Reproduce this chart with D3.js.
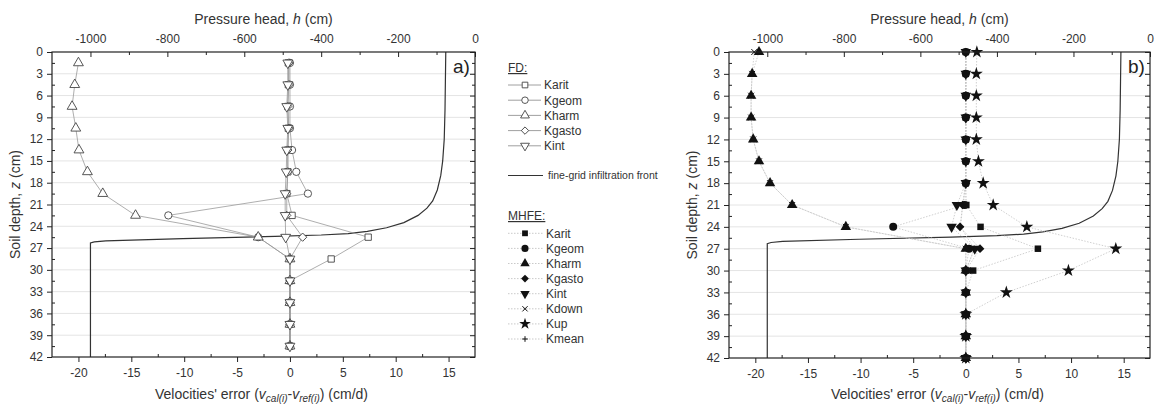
<!DOCTYPE html>
<html lang="en">
<head>
<meta charset="UTF-8" />
<script src="https://cdn.jsdelivr.net/npm/d3@7/dist/d3.min.js"></script>
<style>
  body { margin: 0; background: #fff; }
  svg { display: block; font-family: "Liberation Sans", Arial, sans-serif; }
</style>
</head>
<body>
<svg width="1155" height="410" class="svg"></svg>
<script>
  // ---- data ----
  const depthTicks = [0, 3, 6, 9, 12, 15, 18, 21, 24, 27, 30, 33, 36, 39, 42];
  const depthMinor = [1.5, 4.5, 7.5, 10.5, 13.5, 16.5, 19.5, 22.5, 25.5, 28.5, 31.5, 34.5, 37.5, 40.5];
  const velTicks = [-20, -15, -10, -5, 0, 5, 10, 15];
  const velMinor = [-17.5, -12.5, -7.5, -2.5, 2.5, 7.5, 12.5];
  const headTicks = [-1000, -800, -600, -400, -200, 0];
  const headMinor = [-900, -700, -500, -300, -100];

  // FD: values at cell centres
  const depthFD = [1.5, 4.5, 7.5, 10.5, 13.5, 16.5, 19.5, 22.5, 25.5, 28.5, 31.5, 34.5, 37.5, 40.5];
  const fdKarit  = [-0.15, -0.15, -0.2, -0.15, -0.2, -0.2, -0.3, 0.2, 7.4, 3.9, 0, 0, 0, 0];
  const fdKgeom  = [0, 0, 0, 0, 0.2, 0.6, 1.7, -11.5, -3.0, 0, 0, 0, 0, 0];
  const fdKharm  = [-20.0, -20.35, -20.6, -20.25, -19.95, -19.15, -17.7, -14.6, -3.0, 0, 0, 0, 0, 0];
  const fdKgasto = [-0.1, -0.1, -0.2, -0.1, -0.2, -0.2, -0.3, -0.3, 1.2, 0, 0, 0, 0, 0];
  const fdKint   = [-0.2, -0.2, -0.3, -0.2, -0.3, -0.35, -0.45, -0.45, -0.4, 0, 0, 0, 0, 0];

  // MHFE: values at interfaces
  const depthMHFE = [0, 3, 6, 9, 12, 15, 18, 21, 24, 27, 30, 33, 36, 39, 42];
  const mhKarit  = [0, 0, 0, 0, 0, 0, 0, 0.05, 1.4, 6.85, 0.7, 0, 0, 0, 0];
  const mhKgeom  = [0, 0, 0, 0, 0, 0, 0, -0.1, -6.9, 0.3, 0, 0, 0, 0, 0];
  const mhKharm  = [-19.65, -20.3, -20.4, -20.4, -20.2, -19.65, -18.6, -16.5, -11.4, 0, 0, 0, 0, 0, 0];
  const mhKgasto = [0, 0, 0, 0, 0, 0, 0, -0.3, -0.55, 1.35, 0, 0, 0, 0, 0];
  const mhKint   = [0, 0, 0, 0, 0, 0, 0, -0.85, -1.35, 0.85, 0, 0, 0, 0, 0];
  const mhKdown  = [-20.1, -20.3, -20.4, -20.4, -20.2, -19.65, -18.6, -16.5, -11.4, 0, 0, 0, 0, 0, 0];
  const mhKup    = [1.05, 1.0, 1.0, 1.0, 1.0, 1.2, 1.65, 2.6, 5.8, 14.25, 9.75, 3.85, 0, 0, 0];
  const mhKmean  = [0, 0, 0, 0, 0, 0, 0, -0.3, -0.5, 0.8, 0, 0, 0, 0, 0];

  // fine-grid infiltration front (pressure head vs depth)
  const frontDepth = [0, 4, 8, 12, 15, 17, 19, 20.5, 21.5, 22.5, 23.5, 24.2, 24.7, 25.0, 25.2, 25.4, 25.7, 26.0, 26.15, 26.3, 42];
  const frontHead  = [-76, -77, -78, -80, -84, -89, -98, -110, -125, -148, -185, -230, -280, -330, -400, -520, -760, -960, -990, -1000, -1000];

  const svg = d3.select('.svg');
  const plain = d => String(d);

  // custom stroke symbols
  const symTimes = { draw(ctx, size) { const r = Math.sqrt(size) / 2.4; ctx.moveTo(-r, -r); ctx.lineTo(r, r); ctx.moveTo(r, -r); ctx.lineTo(-r, r); } };
  const symPlus = { draw(ctx, size) { const r = Math.sqrt(size) / 2; ctx.moveTo(-r, 0); ctx.lineTo(r, 0); ctx.moveTo(0, -r); ctx.lineTo(0, r); } };

  const fdSeries = [
    { name: 'Karit',  vals: fdKarit,  type: d3.symbolSquare,   rot: 0,   size: 40 },
    { name: 'Kgeom',  vals: fdKgeom,  type: d3.symbolCircle,   rot: 0,   size: 42 },
    { name: 'Kharm',  vals: fdKharm,  type: d3.symbolTriangle, rot: 0,   size: 42 },
    { name: 'Kgasto', vals: fdKgasto, type: d3.symbolSquare,   rot: 45,  size: 34 },
    { name: 'Kint',   vals: fdKint,   type: d3.symbolTriangle, rot: 180, size: 42 },
  ];
  const mhSeries = [
    { name: 'Karit',  vals: mhKarit,  type: d3.symbolSquare,   rot: 0,   size: 42 },
    { name: 'Kgeom',  vals: mhKgeom,  type: d3.symbolCircle,   rot: 0,   size: 50 },
    { name: 'Kharm',  vals: mhKharm,  type: d3.symbolTriangle, rot: 0,   size: 48 },
    { name: 'Kgasto', vals: mhKgasto, type: d3.symbolSquare,   rot: 45,  size: 38 },
    { name: 'Kint',   vals: mhKint,   type: d3.symbolTriangle, rot: 180, size: 48 },
    { name: 'Kdown',  vals: mhKdown,  type: symTimes,          rot: 0,   size: 50, stroke: true },
    { name: 'Kup',    vals: mhKup,    type: d3.symbolStar,     rot: 0,   size: 52 },
    { name: 'Kmean',  vals: mhKmean,  type: symPlus,           rot: 0,   size: 40, stroke: true },
  ];

  function styleAxis(sel) {
    sel.attr('font-size', 12).attr('font-family', null);
    sel.select('.domain').remove();
    sel.selectAll('.tick line').attr('stroke', '#222');
    sel.selectAll('.tick text').attr('fill', '#333');
  }

  function drawPanel(cfg) {
    const g = svg.append('g');
    const x = d3.scaleLinear().domain([-22.5, 17.5]).range([cfg.left, cfg.right]);
    const hx = d3.scaleLinear().domain([-1100, 0]).range([cfg.left, cfg.right]);
    const y = d3.scaleLinear().domain([0, 42]).range([cfg.top, cfg.bottom]);

    // grid
    g.append('g').selectAll('line').data(depthTicks.slice(1, -1)).join('line')
      .attr('x1', cfg.left).attr('x2', cfg.right)
      .attr('y1', d => y(d)).attr('y2', d => y(d))
      .attr('stroke', '#e4e4e4').attr('stroke-width', 1);

    // axes
    g.append('g').attr('transform', `translate(${cfg.left},0)`)
      .call(d3.axisLeft(y).tickValues(depthTicks).tickFormat(plain).tickSize(5).tickPadding(4)).call(styleAxis);
    g.append('g').attr('transform', `translate(${cfg.left},0)`)
      .call(d3.axisLeft(y).tickValues(depthMinor).tickSize(-3).tickFormat('')).call(styleAxis);
    g.append('g').attr('transform', `translate(${cfg.right},0)`)
      .call(d3.axisRight(y).tickValues(depthTicks).tickSize(-5).tickFormat('')).call(styleAxis);
    g.append('g').attr('transform', `translate(${cfg.right},0)`)
      .call(d3.axisRight(y).tickValues(depthMinor).tickSize(-3).tickFormat('')).call(styleAxis);
    g.append('g').attr('transform', `translate(0,${cfg.bottom})`)
      .call(d3.axisBottom(x).tickValues(velTicks).tickFormat(plain).tickSize(5).tickPadding(6)).call(styleAxis);
    g.append('g').attr('transform', `translate(0,${cfg.bottom})`)
      .call(d3.axisBottom(x).tickValues(velMinor).tickSize(-3).tickFormat('')).call(styleAxis);
    g.append('g').attr('transform', `translate(0,${cfg.top})`)
      .call(d3.axisTop(hx).tickValues(headTicks).tickFormat(plain).tickSize(-5).tickPadding(9)).call(styleAxis);
    g.append('g').attr('transform', `translate(0,${cfg.top})`)
      .call(d3.axisTop(hx).tickValues(headMinor).tickSize(-3).tickFormat('')).call(styleAxis);

    // infiltration front
    const front = frontDepth.map((z, i) => ({ z, h: frontHead[i] }));
    g.append('path').datum(front)
      .attr('d', d3.line().x(d => hx(d.h)).y(d => y(d.z)))
      .attr('fill', 'none').attr('stroke', '#333').attr('stroke-width', 1.2);

    // series lines
    cfg.series.forEach(s => {
      const pts = s.vals.map((v, i) => ({ v, z: cfg.depths[i] }));
      g.append('path').datum(pts)
        .attr('d', d3.line().x(d => x(d.v)).y(d => y(d.z)))
        .attr('fill', 'none').attr('stroke', cfg.lineColor).attr('stroke-width', cfg.lineWidth)
        .attr('stroke-dasharray', cfg.dash);
    });
    // markers
    cfg.series.forEach(s => {
      const pts = s.vals.map((v, i) => ({ v, z: cfg.depths[i] }));
      g.append('g').selectAll('path').data(pts).join('path')
        .attr('transform', d => `translate(${x(d.v)},${y(d.z)}) rotate(${s.rot})`)
        .attr('d', d3.symbol().type(s.type).size(s.size))
        .call(markerStyle, cfg.hollow, s);
    });

    // frame
    g.append('rect').attr('x', cfg.left).attr('y', cfg.top)
      .attr('width', cfg.right - cfg.left).attr('height', cfg.bottom - cfg.top)
      .attr('fill', 'none').attr('stroke', '#222').attr('stroke-width', 1.2);

    // panel tag
    g.append('text').attr('x', cfg.right - 22).attr('y', cfg.top + 21)
      .attr('font-size', 19).attr('fill', '#222').text(cfg.tag);

    // axis titles
    const mid = (cfg.left + cfg.right) / 2;
    const t = g.append('text').attr('x', mid).attr('y', 24).attr('text-anchor', 'middle')
      .attr('font-size', 14).attr('fill', '#333');
    t.append('tspan').text('Pressure head, ');
    t.append('tspan').attr('font-style', 'italic').text('h');
    t.append('tspan').text(' (cm)');

    const yl = g.append('text')
      .attr('transform', `translate(${cfg.left - 32},${(cfg.top + cfg.bottom) / 2}) rotate(-90)`)
      .attr('text-anchor', 'middle').attr('font-size', 14).attr('fill', '#333');
    yl.append('tspan').text('Soil depth, ');
    yl.append('tspan').attr('font-style', 'italic').text('z');
    yl.append('tspan').text(' (cm)');

    const xl = g.append('text').attr('x', mid - 2).attr('y', 399).attr('text-anchor', 'middle')
      .attr('font-size', 14).attr('fill', '#333');
    xl.append('tspan').text("Velocities' error (");
    xl.append('tspan').attr('font-style', 'italic').text('v');
    xl.append('tspan').attr('font-style', 'italic').attr('font-size', 10).attr('dy', 3).text('cal(i)');
    xl.append('tspan').attr('dy', -3).text('-');
    xl.append('tspan').attr('font-style', 'italic').text('v');
    xl.append('tspan').attr('font-style', 'italic').attr('font-size', 10).attr('dy', 3).text('ref(i)');
    xl.append('tspan').attr('dy', -3).text(') (cm/d)');
  }

  function markerStyle(sel, hollow, s) {
    if (s.stroke) {
      sel.attr('fill', 'none').attr('stroke', hollow ? '#444' : '#111').attr('stroke-width', 1);
    } else if (hollow) {
      sel.attr('fill', '#fff').attr('stroke', '#444').attr('stroke-width', 0.9);
    } else {
      sel.attr('fill', '#111').attr('stroke', 'none');
    }
  }

  drawPanel({ left: 52, right: 475, top: 52, bottom: 357, tag: 'a)', series: fdSeries, depths: depthFD,
    hollow: true, lineColor: '#999', lineWidth: 0.8, dash: null });
  drawPanel({ left: 729, right: 1150, top: 52, bottom: 358, tag: 'b)', series: mhSeries, depths: depthMHFE,
    hollow: false, lineColor: '#c4c4c4', lineWidth: 0.8, dash: '1.5,1.5' });

  // ---- legend ----
  const leg = svg.append('g').attr('font-size', 12).attr('fill', '#333');
  leg.append('text').attr('x', 508).attr('y', 72).text('FD:').attr('text-decoration', 'underline');
  fdSeries.forEach((s, i) => {
    const yy = 85 + i * 15.2;
    leg.append('line').attr('x1', 508).attr('x2', 541).attr('y1', yy).attr('y2', yy)
      .attr('stroke', '#888').attr('stroke-width', 0.8);
    leg.append('path').attr('transform', `translate(525,${yy}) rotate(${s.rot})`)
      .attr('d', d3.symbol().type(s.type).size(s.size * 0.8)).call(markerStyle, true, s);
    leg.append('text').attr('x', 544).attr('y', yy + 4.3).text(s.name);
  });
  leg.append('line').attr('x1', 508).attr('x2', 543).attr('y1', 175.5).attr('y2', 175.5)
    .attr('stroke', '#333').attr('stroke-width', 1.1);
  leg.append('text').attr('x', 548).attr('y', 179).attr('font-size', 10.5).text('fine-grid infiltration front');

  leg.append('text').attr('x', 508).attr('y', 220).text('MHFE:').attr('text-decoration', 'underline');
  mhSeries.forEach((s, i) => {
    const yy = 233.3 + i * 15.1;
    leg.append('line').attr('x1', 508).attr('x2', 543).attr('y1', yy).attr('y2', yy)
      .attr('stroke', '#bbb').attr('stroke-width', 0.8).attr('stroke-dasharray', '1.5,1.5');
    leg.append('path').attr('transform', `translate(525,${yy}) rotate(${s.rot})`)
      .attr('d', d3.symbol().type(s.type).size(s.size * 0.8)).call(markerStyle, false, s);
    leg.append('text').attr('x', 546).attr('y', yy + 4.3).text(s.name);
  });
</script>
</body>
</html>
